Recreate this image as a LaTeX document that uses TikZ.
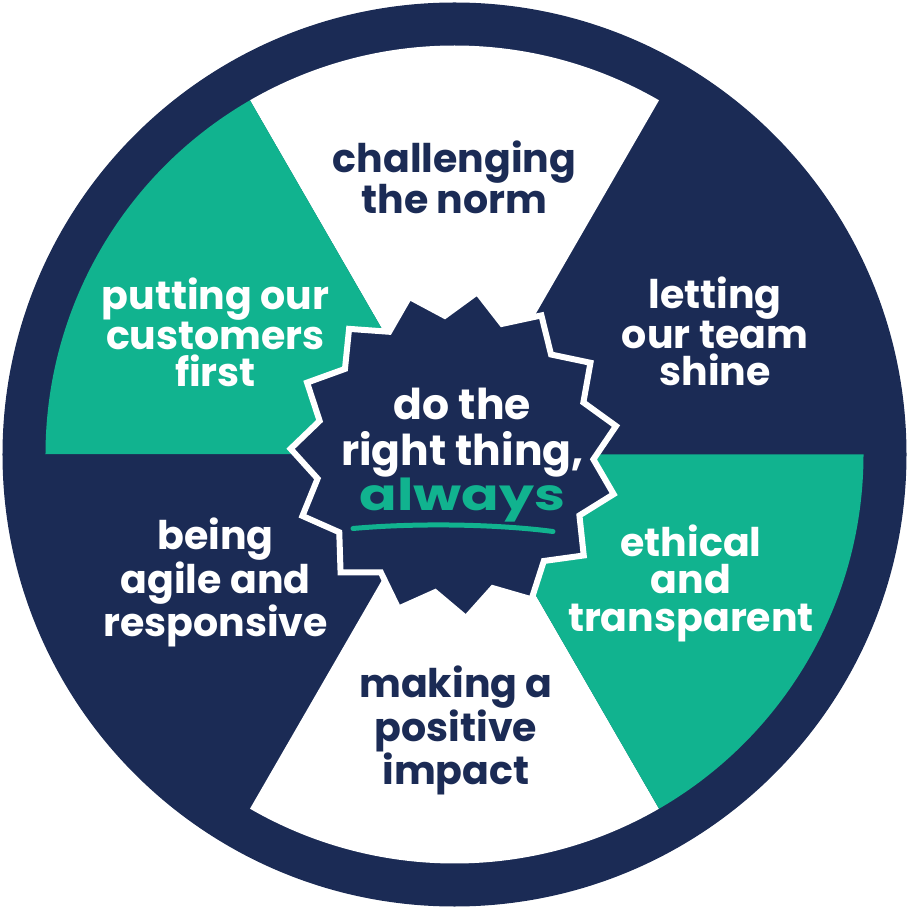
\documentclass[tikz,border=0pt]{standalone}
\usepackage{graphicx}
\usepackage{fontspec}
\setmainfont{Poppins}
\definecolor{brandnavy}{RGB}{27,43,85}
\definecolor{brandgreen}{RGB}{17,179,143}
\begin{document}
\begin{tikzpicture}[x=1pt,y=1pt,
  lbl/.style={align=center, font=\fontsize{39.5}{37.5}\selectfont\bfseries, inner sep=0pt},
  onwhite/.style={lbl, text=brandnavy},
  ondark/.style={lbl, text=white}]
\useasboundingbox (-454.5,-454.5) rectangle (454.5,454.5);
% outer ring
\fill[brandnavy] (0,0) circle (452);
% sectors
\fill[brandnavy] (0,0) -- (0:409) arc (0:60:409) -- cycle;
\fill[white] (0,0) -- (60:409) arc (60:120:409) -- cycle;
\fill[brandgreen] (0,0) -- (120:409) arc (120:180:409) -- cycle;
\fill[brandnavy] (0,0) -- (180:409) arc (180:240:409) -- cycle;
\fill[white] (0,0) -- (240:409) arc (240:300:409) -- cycle;
\fill[brandgreen] (0,0) -- (300:409) arc (300:360:409) -- cycle;
% central badge
\filldraw[fill=brandnavy, draw=white, line width=6pt, line join=miter]
  (10:164) \foreach \k in {0,...,14}{ -- ({22+24*\k}:139) -- ({34+24*\k}:164) } -- cycle;
% labels
\node[onwhite] (norm) at (0,277) {challenging\\the norm};
\node[ondark] (team) at (260.5,123) {letting\\our team\\shine};
\node[ondark] (cust) at (-239,122) {putting our\\customers\\first};
\node[ondark, font=\fontsize{39.5}{37}\selectfont\bfseries] (agile) at (-239,-128) {being\\agile and\\responsive};
\node[ondark] (ethic) at (236.5,-128.5) {ethical\\and\\transparent};
\node[onwhite, font=\fontsize{39.5}{37}\selectfont\bfseries] (impact) at (1.5,-276) {making a\\positive\\impact};
\node[lbl, font=\fontsize{42.5}{45.5}\selectfont\bfseries, text=white] (core) at (8,-1)
  {do the\\right thing,\\\scalebox{1.26}[1]{\fontsize{44}{45}\selectfont\color{brandgreen}always}};
\draw[brandgreen, line width=5pt, line cap=round]
  (-101.5,-74) .. controls (-34.5,-68) and (45.5,-70) .. (98.5,-77);
\end{tikzpicture}
\end{document}
